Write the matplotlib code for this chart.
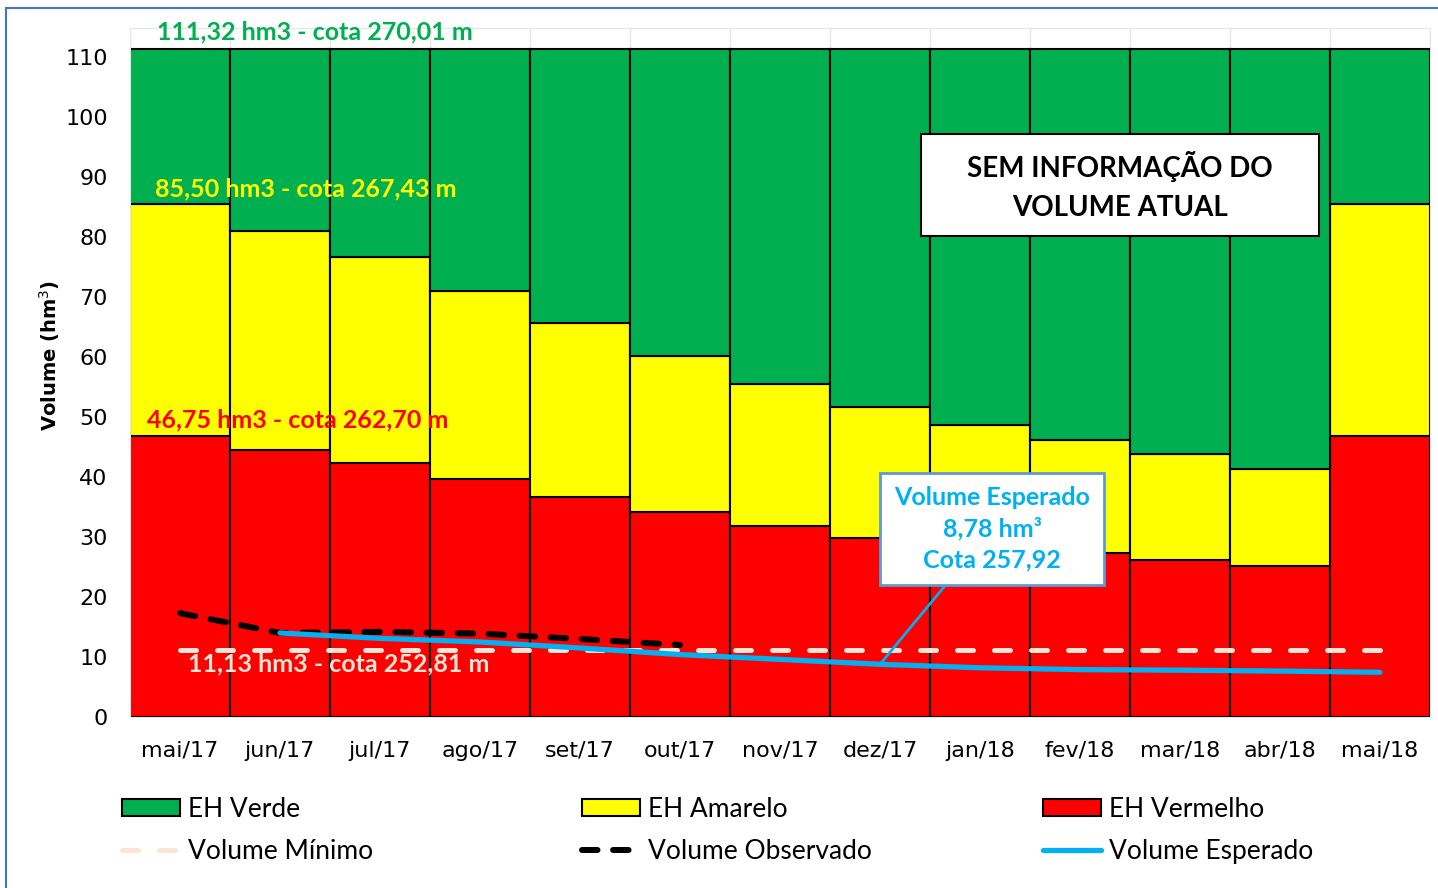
import matplotlib
matplotlib.use('Agg')
import matplotlib.pyplot as plt
from matplotlib.patches import Rectangle, Patch
from matplotlib.lines import Line2D
import numpy as np

# dados
meses = ['mai/17', 'jun/17', 'jul/17', 'ago/17', 'set/17', 'out/17', 'nov/17',
         'dez/17', 'jan/18', 'fev/18', 'mar/18', 'abr/18', 'mai/18']
eh_vermelho = [46.75, 44.5, 42.3, 39.6, 36.7, 34.2, 31.8, 29.9, 28.7, 27.4, 26.2, 25.1, 46.75]
eh_amarelo = [85.5, 81.0, 76.6, 71.0, 65.7, 60.2, 55.5, 51.7, 48.7, 46.1, 43.8, 41.3, 85.5]
eh_verde = [111.32] * 13
vol_minimo = [11.13] * 13
vol_observado = [17.3, 14.0, 14.2, 13.9, 13.0, 12.0]
vol_esperado = [14.0, 13.1, 12.5, 11.5, 10.4, 9.6, 8.78, 8.2, 7.9, 7.8, 7.65, 7.45]

x = np.arange(len(meses))
red = np.array(eh_vermelho)
yel = np.array(eh_amarelo)
grn = np.array(eh_verde)

fig = plt.figure(figsize=(14.38, 8.88), dpi=100)
ax = fig.add_axes([130/1438, (888-717)/888, 1300/1438, (717-28)/888])

ax.bar(x, red, width=1, color='#FF0000', edgecolor='black', linewidth=1.5, zorder=2)
ax.bar(x, yel - red, bottom=red, width=1, color='#FFFF00', edgecolor='black', linewidth=1.5, zorder=2)
ax.bar(x, grn - yel, bottom=yel, width=1, color='#00B050', edgecolor='black', linewidth=1.5, zorder=2)

min_style = dict(color='#FBE5D6', lw=3.6, dashes=(3.2, 4.2), dash_capstyle='round')
obs_style = dict(color='black', lw=4.3, dashes=(2.6, 2.6), dash_capstyle='round')
esp_style = dict(color='#00B0F0', lw=3.8, solid_capstyle='round')

ax.plot(x, vol_minimo, zorder=3, **min_style)
ax.plot(x[:len(vol_observado)], vol_observado, zorder=4, **obs_style)
ax.plot(x[1:], vol_esperado, zorder=5, **esp_style)

ax.set_xlim(-0.5, len(meses) - 0.5)
ax.set_ylim(0, 114.8)
ax.set_yticks(range(0, 111, 10))
ax.set_xticks(x)
ax.set_xticklabels(meses)
ax.set_xticks(np.arange(-0.5, len(meses), 1), minor=True)
ax.grid(which='minor', axis='x', color='#E6E6E6', lw=1, zorder=0)
ax.tick_params(axis='both', which='both', length=0, labelsize=16)
ax.tick_params(axis='x', pad=17)
ax.tick_params(axis='y', pad=16)
for s in ax.spines.values():
    s.set_color('#E6E6E6')
ax.set_axisbelow(True)

fig.text(50/1438, (888-355)/888, 'Volume (hm$^3$)', rotation=90, ha='center', va='center',
         fontsize=14, fontweight='bold')

lab = dict(fontsize=18, fontweight='bold', family='Lato', va='center', clip_on=False, zorder=6)
ax.text(-0.23, 114.2, '111,32 hm3 - cota 270,01 m', color='#00B050', **lab)
ax.text(-0.25, 88.0, '85,50 hm3 - cota 267,43 m', color='#FFFF00', **lab)
ax.text(-0.33, 49.5, '46,75 hm3 - cota 262,70 m', color='#FF0000', **lab)
ax.text(0.08, 8.8, '11,13 hm3 - cota 252,81 m', color='#FBE5D6', **lab)

# caixa sem informacao
ax.add_patch(Rectangle(((921-130)/1300, (717-236)/689), 398/1300, 102/689, transform=ax.transAxes,
                       facecolor='white', edgecolor='black', lw=1.5, zorder=7))
ax.text((1120-130)/1300, (717-186)/689, 'SEM INFORMAÇÃO DO\nVOLUME ATUAL', transform=ax.transAxes,
        ha='center', va='center', fontsize=20, fontweight='bold', family='Lato',
        linespacing=1.65, zorder=8)

# callout volume esperado
ax.annotate('Volume Esperado\n8,78 hm³\nCota 257,92', xy=(7, vol_esperado[6]),
            xytext=(8.12, (717-529)/6), ha='center', va='center', fontsize=18,
            fontweight='bold', family='Lato', color='#00B0F0', linespacing=1.4,
            bbox=dict(boxstyle='square,pad=0.55', facecolor='white', edgecolor='#5B9BD5', lw=2),
            arrowprops=dict(arrowstyle='-', color='#00B0F0', lw=2, shrinkA=0, shrinkB=0),
            zorder=8)

leg_cols = [
    ([Patch(facecolor='#00B050', edgecolor='black', lw=1.5), Line2D([], [], **min_style)],
     ['EH Verde', 'Volume Mínimo'], 122),
    ([Patch(facecolor='#FFFF00', edgecolor='black', lw=1.5), Line2D([], [], **obs_style)],
     ['EH Amarelo', 'Volume Observado'], 582),
    ([Patch(facecolor='#FF0000', edgecolor='black', lw=1.5), Line2D([], [], **esp_style)],
     ['EH Vermelho', 'Volume Esperado'], 1043),
]
for hs, ls, px in leg_cols:
    fig.legend(hs, ls, loc='upper left', bbox_to_anchor=(px/1438, (888-797)/888),
               frameon=False, prop={'family': 'Lato', 'size': 19}, handlelength=2.2,
               handleheight=0.62, handletextpad=0.3, labelspacing=0.63,
               borderpad=0, borderaxespad=0)

# moldura azul
fig.add_artist(Rectangle((6/1438, -0.01), 1.0, (880/888) + 0.01, transform=fig.transFigure,
                         fill=False, edgecolor='#4472C4', lw=1.5))

fig.savefig('out.png', dpi=100)
